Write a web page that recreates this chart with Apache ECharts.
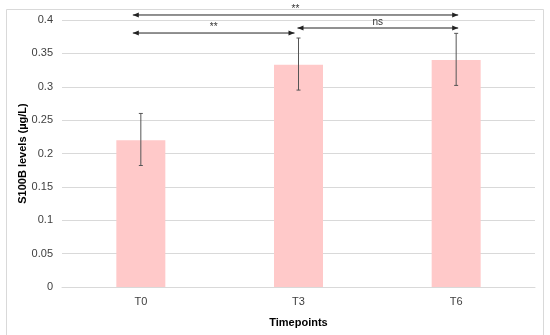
<!DOCTYPE html>
<html><head><meta charset="utf-8">
<script src="https://cdn.jsdelivr.net/npm/echarts@6/dist/echarts.min.js"></script>
<style>html,body{margin:0;padding:0;background:#fff}#c{width:550px;height:335px}</style>
</head><body><div id="c"></div>
<script>
const categories = ['T0', 'T3', 'T6'];
const means = [0.22, 0.333, 0.34];
const errLow = [0.182, 0.295, 0.302];
const errHigh = [0.26, 0.373, 0.38];
// significance brackets: [fromIndex, toIndex, yValue, label]
const sigFrom = [0, 0, 1];
const sigTo = [2, 1, 2];
const sigY = [0.4075, 0.3805, 0.388];
const sigLabel = ['**', '**', 'ns'];

const FONT = '"Liberation Sans", Arial, sans-serif';
const chart = echarts.init(document.getElementById('c'));

function arrowHead(x, y, dir) {
  return {
    type: 'polygon',
    shape: { points: [[x, y], [x - dir * 6, y - 2.5], [x - dir * 6, y + 2.5]] },
    style: { fill: '#222' }
  };
}

chart.setOption({
  animation: false,
  graphic: [{
    type: 'rect', left: 6, top: 9, z: -10,
    shape: { width: 537, height: 330 },
    style: { fill: '#fff', stroke: '#d9d9d9', lineWidth: 1 }
  }],
  grid: { left: 62, right: 15, top: 20, bottom: 48 },
  xAxis: {
    type: 'category', data: categories,
    name: 'Timepoints', nameLocation: 'middle', nameGap: 30,
    nameTextStyle: { fontFamily: FONT, fontWeight: 'bold', fontSize: 11, color: '#000' },
    axisLine: { lineStyle: { color: '#d9d9d9' } },
    axisTick: { show: false },
    axisLabel: { fontFamily: FONT, fontSize: 11, color: '#404040', margin: 9 }
  },
  yAxis: {
    type: 'value', min: 0, max: 0.4, interval: 0.05,
    name: 'S100B levels (µg/L)', nameLocation: 'middle', nameGap: 34,
    nameMoveOverlap: false,
    nameTextStyle: { fontFamily: FONT, fontWeight: 'bold', fontSize: 11, color: '#000' },
    axisLine: { show: false }, axisTick: { show: false },
    splitLine: { lineStyle: { color: '#d9d9d9' } },
    axisLabel: { fontFamily: FONT, fontSize: 11, color: '#404040', margin: 9 }
  },
  series: [{
    type: 'bar', data: means, barWidth: 49,
    itemStyle: { color: '#ffc9c9' }
  }, {
    type: 'custom',
    data: categories.map((c, i) => [i, errLow[i], errHigh[i]]),
    renderItem: function (params, api) {
      const lo = api.coord([api.value(0), api.value(1)]);
      const hi = api.coord([api.value(0), api.value(2)]);
      const x = lo[0], cw = 2;
      const st = { stroke: '#555', lineWidth: 1 };
      return { type: 'group', children: [
        { type: 'line', shape: { x1: x, y1: lo[1], x2: x, y2: hi[1] }, style: st },
        { type: 'line', shape: { x1: x - cw, y1: lo[1], x2: x + cw, y2: lo[1] }, style: st },
        { type: 'line', shape: { x1: x - cw, y1: hi[1], x2: x + cw, y2: hi[1] }, style: st }
      ]};
    },
    z: 5
  }, {
    type: 'custom',
    clip: false,
    data: sigLabel.map((l, i) => [sigFrom[i], sigTo[i], sigY[i]]),
    renderItem: function (params, api) {
      const i = params.dataIndex;
      const a = api.coord([api.value(0), api.value(2)]);
      const b = api.coord([api.value(1), api.value(2)]);
      const x1 = a[0] + (sigFrom[i] === 0 ? -8 : -1);
      const x2 = b[0] + (sigTo[i] === 2 ? 2 : -4);
      const y = a[1];
      return { type: 'group', children: [
        { type: 'line', shape: { x1: x1, y1: y, x2: x2, y2: y }, style: { stroke: '#222', lineWidth: 1 } },
        arrowHead(x1, y, -1), arrowHead(x2, y, 1),
        { type: 'text', style: { x: (x1 + x2) / 2, y: y - 6, text: sigLabel[i],
          textAlign: 'center', textVerticalAlign: 'middle', font: '10px ' + FONT, fill: '#333' } }
      ]};
    },
    z: 6
  }]
});
</script></body></html>
